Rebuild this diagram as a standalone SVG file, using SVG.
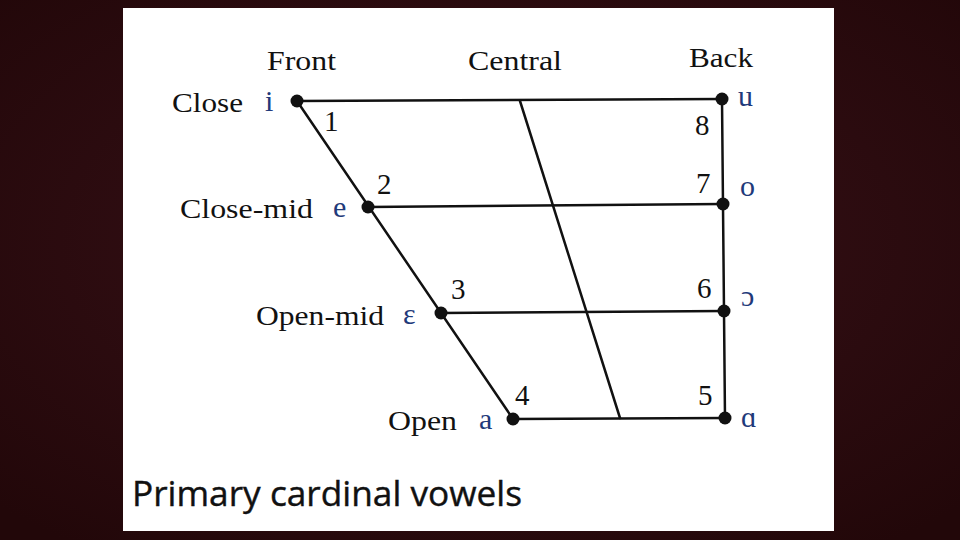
<svg xmlns="http://www.w3.org/2000/svg" width="960" height="540" viewBox="0 0 960 540">
<defs>
<radialGradient id="bg" cx="50%" cy="45%" r="70%">
<stop offset="0" stop-color="#3a1219"/>
<stop offset="1" stop-color="#220709"/>
</radialGradient>
</defs>
<style>
.lbl{font-family:"Liberation Serif","Times New Roman",serif;font-size:28px;fill:#111}
.num{font-family:"Liberation Serif","Times New Roman",serif;font-size:29px;fill:#111}
.ipa{font-family:"Liberation Serif","Times New Roman",serif;font-size:30px;fill:#1f3a7a}
.ln{stroke:#111;stroke-width:2.5;fill:none;stroke-linecap:round}
.dot{fill:#111}
.title{font-family:"Open Sans","Noto Sans",sans-serif;font-size:35px;fill:#111;stroke:#111;stroke-width:0.4}
</style>
<rect width="960" height="540" fill="url(#bg)"/>
<rect x="123" y="8" width="711" height="523" fill="#ffffff"/>

<g id="connectors">
<line class="ln" x1="297" y1="101" x2="722" y2="99"/>
<line class="ln" x1="368" y1="207" x2="723" y2="204"/>
<line class="ln" x1="441" y1="313" x2="724" y2="311"/>
<line class="ln" x1="513" y1="419" x2="725" y2="418"/>
<line class="ln" x1="297" y1="101" x2="513" y2="419"/>
<line class="ln" x1="722" y1="99" x2="725" y2="418"/>
<line class="ln" x1="520" y1="101" x2="620" y2="418"/>
</g>

<g id="headers">
<text class="lbl" x="267" y="70" textLength="69" lengthAdjust="spacingAndGlyphs">Front</text>
<text class="lbl" x="468" y="70" textLength="94" lengthAdjust="spacingAndGlyphs">Central</text>
<text class="lbl" x="689" y="67" textLength="64" lengthAdjust="spacingAndGlyphs">Back</text>
</g>

<g id="node-i">
<text class="lbl" x="172" y="112" textLength="71" lengthAdjust="spacingAndGlyphs">Close</text>
<text class="ipa" x="265" y="111">i</text>
<circle class="dot" cx="297" cy="101" r="6.5"/>
<text class="num" x="324" y="131">1</text>
</g>
<g id="node-e">
<text class="lbl" x="180" y="218" textLength="133" lengthAdjust="spacingAndGlyphs">Close-mid</text>
<text class="ipa" x="333" y="217">e</text>
<circle class="dot" cx="368" cy="207" r="6.5"/>
<text class="num" x="377" y="194">2</text>
</g>
<g id="node-eps">
<text class="lbl" x="256" y="325" textLength="128" lengthAdjust="spacingAndGlyphs">Open-mid</text>
<text class="ipa" x="403" y="324">ε</text>
<circle class="dot" cx="441" cy="313" r="6.5"/>
<text class="num" x="451" y="299">3</text>
</g>
<g id="node-a">
<text class="lbl" x="388" y="430" textLength="69" lengthAdjust="spacingAndGlyphs">Open</text>
<text class="ipa" x="479" y="429">a</text>
<circle class="dot" cx="513" cy="419" r="6.5"/>
<text class="num" x="515" y="405">4</text>
</g>
<g id="node-u">
<circle class="dot" cx="722" cy="99" r="6.5"/>
<text class="ipa" x="738" y="106">u</text>
<text class="num" x="695" y="135">8</text>
</g>
<g id="node-o">
<circle class="dot" cx="723" cy="204" r="6.5"/>
<text class="ipa" x="740" y="196">o</text>
<text class="num" x="696" y="193">7</text>
</g>
<g id="node-open-o">
<circle class="dot" cx="724" cy="311" r="6.5"/>
<text class="ipa" x="741" y="306">ɔ</text>
<text class="num" x="697" y="298">6</text>
</g>
<g id="node-alpha">
<circle class="dot" cx="725" cy="418" r="6.5"/>
<text class="ipa" x="741" y="427">ɑ</text>
<text class="num" x="698" y="405">5</text>
</g>

<text class="title" x="132" y="506" textLength="390" lengthAdjust="spacingAndGlyphs">Primary cardinal vowels</text>
</svg>
